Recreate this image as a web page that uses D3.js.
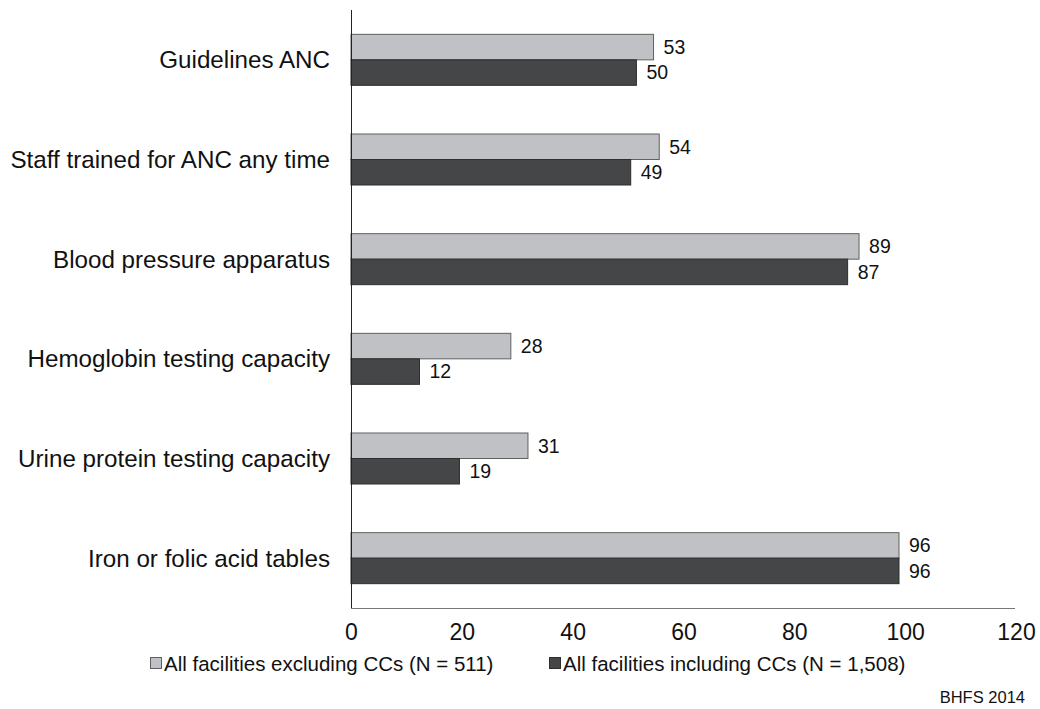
<!DOCTYPE html>
<html><head><meta charset="utf-8">
<script src="https://cdn.jsdelivr.net/npm/d3@7"></script>
<style>body{margin:0;background:#fff}svg{display:block;font-family:"Liberation Sans",Arial,sans-serif}</style>
</head><body><svg id="c" width="1040" height="709"></svg>
<script>
const categories = ["Guidelines ANC","Staff trained for ANC any time","Blood pressure apparatus","Hemoglobin testing capacity","Urine protein testing capacity","Iron or folic acid tables"];
const excludingCCs = [53,54,89,28,31,96];
const includingCCs = [50,49,87,12,19,96];
const seriesNames = ["All facilities excluding CCs (N = 511)","All facilities including CCs (N = 1,508)"];
const tickValues = [0,20,40,60,80,100,120];
const source = "BHFS 2014";

const svg = d3.select("#c");
const x0 = 351, yTop = 10, yBot = 608;
// bar scale (as drawn in original)
const x = d3.scaleLinear().domain([0,120]).range([x0, x0+685]);
// axis label scale
const xAxisScale = d3.scaleLinear().domain([0,120]).range([x0, 1016]);
const y = d3.scaleBand().domain(categories).range([yTop, yBot]);
const barH = 25.5;
const colors = ["#c0c1c4","#454648"];
const strokes = ["#606060","#2e2e2e"];
const series = [excludingCCs, includingCCs];

series.forEach((vals, si) => {
  const g = svg.append("g");
  g.selectAll("rect").data(categories).join("rect")
    .attr("x", x(0))
    .attr("y", (d) => y(d) + y.bandwidth()/2 - barH + si*barH)
    .attr("width", (d,i) => x(vals[i]) - x(0))
    .attr("height", barH)
    .attr("fill", colors[si]).attr("stroke", strokes[si]).attr("stroke-width", 1);
  g.selectAll("text").data(categories).join("text")
    .attr("x", (d,i) => x(vals[i]) + 10)
    .attr("y", (d) => y(d) + y.bandwidth()/2 - barH/2 + si*barH)
    .attr("dy", "0.35em")
    .attr("font-size", 19.5).attr("fill", "#111")
    .text((d,i) => vals[i]);
});

// category labels
svg.append("g").selectAll("text").data(categories).join("text")
  .attr("x", 330).attr("y", d => y(d) + y.bandwidth()/2).attr("dy","0.35em")
  .attr("text-anchor","end").attr("font-size",24.2).attr("fill","#111").text(d=>d);

// axes lines
svg.append("line").attr("x1", x0+0.5).attr("x2", x0+0.5).attr("y1", yTop).attr("y2", yBot).attr("stroke","#222");
svg.append("line").attr("x1", x0).attr("x2", 1015).attr("y1", yBot+0.5).attr("y2", yBot+0.5).attr("stroke","#777");

// ticks labels via axis
const ax = svg.append("g").attr("transform", `translate(0,${yBot})`)
  .call(d3.axisBottom(xAxisScale).tickValues(tickValues).tickSize(0).tickPadding(16).tickFormat(d3.format("d")));
ax.select(".domain").remove();
ax.selectAll("text").attr("font-size",23).attr("fill","#111").attr("font-family","Liberation Sans, Arial, sans-serif");

// legend
const legX = [150, 549];
seriesNames.forEach((n, i) => {
  svg.append("rect").attr("x", legX[i]+0.5).attr("y", 657.5).attr("width",11).attr("height",11)
    .attr("fill", colors[i]).attr("stroke", strokes[i]);
  svg.append("text").attr("x", legX[i]+14).attr("y", 664).attr("dy","0.35em")
    .attr("font-size",20.5).attr("fill","#111").text(n);
});
svg.append("text").attr("x",1025).attr("y",697).attr("dy","0.35em").attr("text-anchor","end")
  .attr("font-size",16.5).attr("fill","#111").text(source);
</script></body></html>
